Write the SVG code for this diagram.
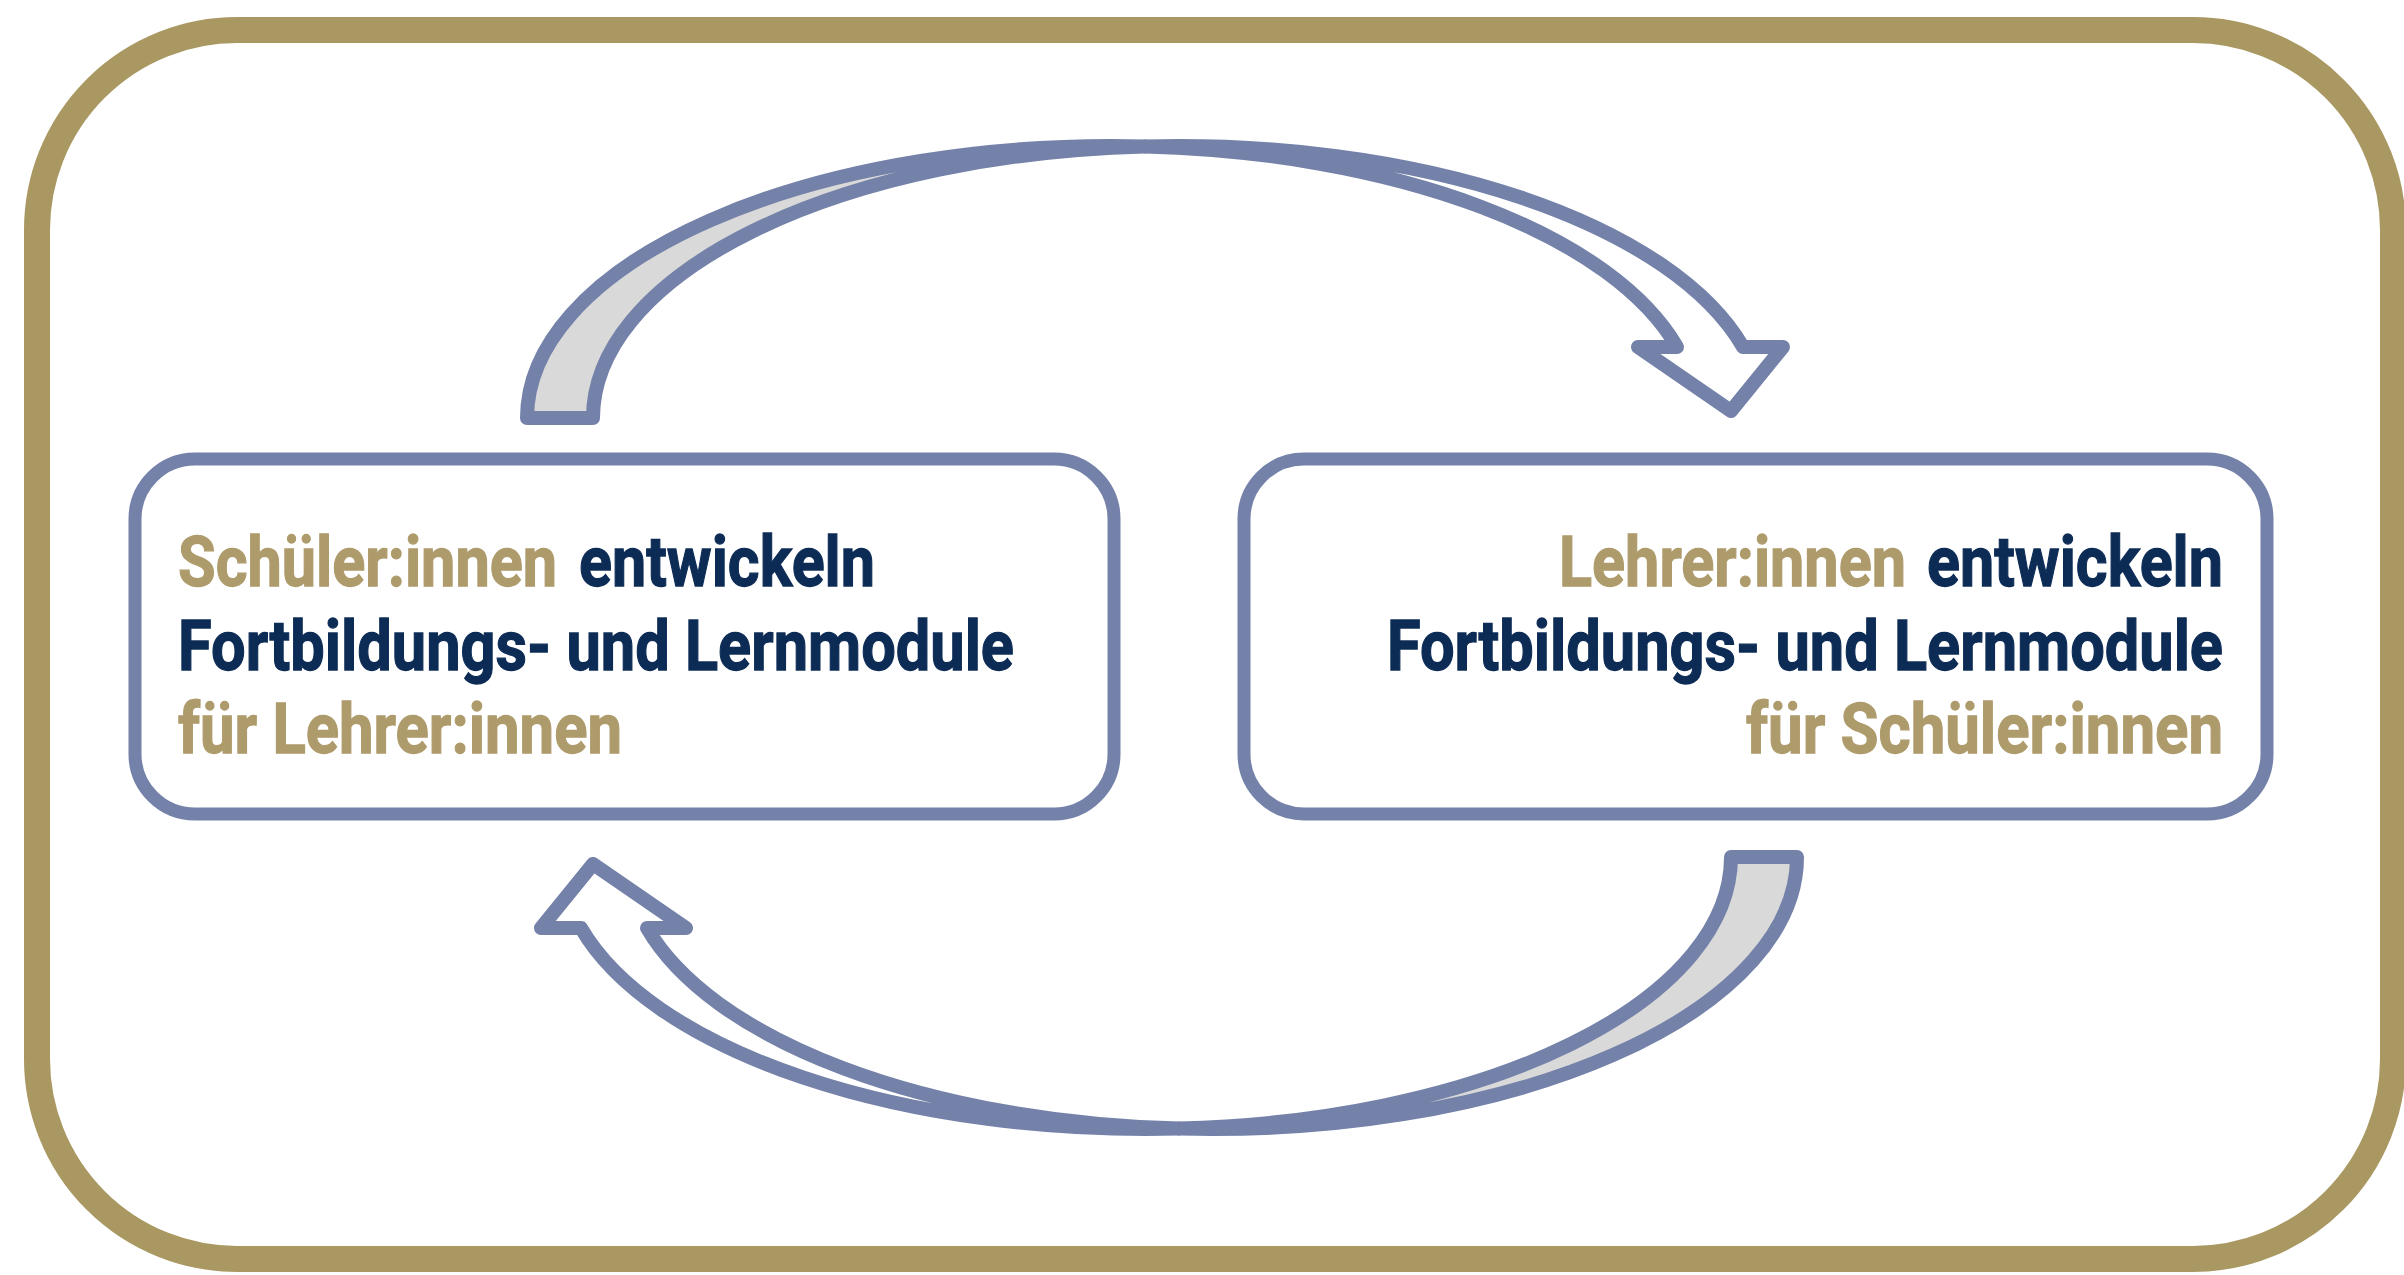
<svg xmlns="http://www.w3.org/2000/svg" xmlns:xlink="http://www.w3.org/1999/xlink" width="2404" height="1275" viewBox="0 0 2404 1275">
<style>
.frame{fill:#ffffff;stroke:#AA9862;stroke-width:26}
.box{fill:#ffffff;stroke:#7481A9;stroke-width:13}
.arr{stroke:#7481A9;stroke-width:14;stroke-linejoin:round}
.back{fill:#D9D9D9}
.front{fill:#ffffff}
.t{font-family:Roboto,"Liberation Sans",sans-serif;font-weight:700;font-size:62px;stroke-width:1.1}
.gold{fill:#AE9B6B;stroke:#AE9B6B}
.navy{fill:#0C2B55;stroke:#0C2B55}
</style>
<defs>
<g id="curved">
<path class="arr back" d="M527 418 A585 272 0 0 1 1145 146.4 A585 272 0 0 0 593 418 Z"/>
<path class="arr front" d="M1145 146.4 A585 272 0 0 1 1743 347 L1783 347 L1731 411 L1638 347 L1677 347 A585 272 0 0 0 1145 146.4 Z"/>
</g>
</defs>
<rect id="frame" class="frame" x="37" y="30" width="2356" height="1229" rx="200" ry="200"/>
<g id="connectors">
<use id="arrow-top" xlink:href="#curved"/>
<use id="arrow-bottom" xlink:href="#curved" transform="rotate(180 1162 637.5)"/>
</g>
<g id="node-left">
<rect class="box" x="135" y="459" width="979" height="355" rx="60" ry="60"/>
<g transform="scale(1 1.145)">
<text class="t gold" x="178" y="511.8" textLength="379" lengthAdjust="spacingAndGlyphs">Schüler:innen</text>
<text class="t navy" x="579" y="511.8" textLength="296" lengthAdjust="spacingAndGlyphs">entwickeln</text>
<text class="t navy" x="178" y="585.2" textLength="836" lengthAdjust="spacingAndGlyphs">Fortbildungs- und Lernmodule</text>
<text class="t gold" x="178" y="657.6" textLength="444" lengthAdjust="spacingAndGlyphs">für Lehrer:innen</text>
</g>
</g>
<g id="node-right">
<rect class="box" x="1244" y="459" width="1023" height="355" rx="60" ry="60"/>
<g transform="scale(1 1.145)">
<text class="t gold" x="1559" y="511.8" textLength="347" lengthAdjust="spacingAndGlyphs">Lehrer:innen</text>
<text class="t navy" x="1927" y="511.8" textLength="296" lengthAdjust="spacingAndGlyphs">entwickeln</text>
<text class="t navy" x="1387" y="585.2" textLength="836" lengthAdjust="spacingAndGlyphs">Fortbildungs- und Lernmodule</text>
<text class="t gold" x="1746" y="657.6" textLength="477" lengthAdjust="spacingAndGlyphs">für Schüler:innen</text>
</g>
</g>
</svg>
